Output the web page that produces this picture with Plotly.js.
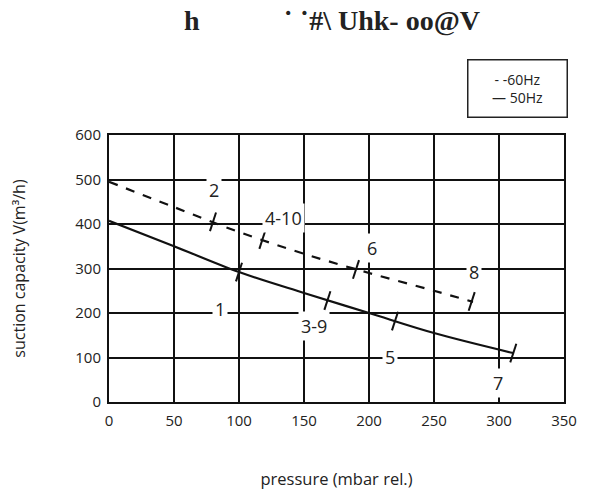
<!DOCTYPE html>
<html>
<head>
<meta charset="utf-8">
<script src="https://cdn.plot.ly/plotly-3.0.1.min.js"></script>
<style>html,body{margin:0;padding:0;background:#fff;}#chart{width:599px;height:490px;}</style>
</head>
<body>
<div id="chart"></div>
<script>
// pressure values (mbar rel.)
const pressure60 = [0, 50, 100, 150, 200, 250, 280];
const capacity60 = [495, 438, 382, 333, 290, 250, 225];
const pressure50 = [0, 50, 100, 150, 200, 250, 311];
const capacity50 = [407, 350, 292, 245, 200, 155, 110];

// tick marks on curves
const mark60x = [80, 118, 190, 279];
const mark60y = [405, 365, 298, 226];
const mark50x = [100, 168, 220, 311];
const mark50y = [292, 228, 182, 110];

// numbered labels
const labelText = ["1", "2", "3-9", "4-10", "5", "6", "7", "8"];
const labelX = [85, 81, 158, 134, 216, 202, 299, 281];
const labelY = [209, 476, 171, 413, 101, 346, 43, 292];

const xTicks = [0, 50, 100, 150, 200, 250, 300, 350];
const yTicks = [0, 100, 200, 300, 400, 500, 600];

const titleText = "h" + "\u00a0".repeat(12) + "˙ ˙#\\ Uhk- oo@V";
const legendText = "- -60Hz<br>— 50Hz";

const traces = [
  {x: pressure60, y: capacity60, mode: "lines", line: {color: "#111", width: 2.2, dash: "dash", shape: "spline"}, showlegend: false, name: "60Hz"},
  {x: pressure50, y: capacity50, mode: "lines", line: {color: "#111", width: 2.2, shape: "spline"}, showlegend: false, name: "50Hz"},
  {x: mark60x, y: mark60y, mode: "markers", marker: {symbol: "line-ns", size: 14, angle: 18, line: {color: "#111", width: 2}}, showlegend: false},
  {x: mark50x, y: mark50y, mode: "markers", marker: {symbol: "line-ns", size: 14, angle: 18, line: {color: "#111", width: 2}}, showlegend: false}
];

const annotations = labelText.map((t, i) => ({
  x: labelX[i], y: labelY[i], xref: "x", yref: "y", text: t, showarrow: false,
  font: {family: "Open Sans", size: 18, color: "#222"}, bgcolor: "#fff", borderpad: 2
}));
annotations.push({
  x: 0.897, y: 1.176, xref: "paper", yref: "paper", xanchor: "center", yanchor: "middle",
  text: legendText, showarrow: false,
  font: {family: "Open Sans", size: 14, color: "#222"}, bordercolor: "#222", borderwidth: 1.5,
  width: 94, height: 52, borderpad: 2, align: "center", bgcolor: "#fff"
});

const axisFont = {family: "Open Sans", size: 15, color: "#222"};
const layout = {
  width: 599, height: 490,
  margin: {l: 109, r: 35, t: 135, b: 88},
  paper_bgcolor: "#fff", plot_bgcolor: "#fff",
  title: {text: titleText, font: {family: "Liberation Serif", size: 28, color: "#222", weight: "bold"}, x: 0.49, xref: "paper", y: 0.958, yanchor: "middle"},
  xaxis: {
    range: [0, 350], tickvals: xTicks, ticktext: xTicks.map(String), showgrid: true, gridcolor: "#111", gridwidth: 2,
    showline: true, mirror: true, linecolor: "#111", linewidth: 2, zeroline: false,
    ticks: "outside", ticklen: 4, tickcolor: "#fff", tickfont: axisFont,
    title: {text: "pressure (mbar rel.)", font: {family: "Open Sans", size: 16.5, color: "#222"}, standoff: 58}
  },
  yaxis: {
    range: [0, 600], tickvals: yTicks, ticktext: yTicks.map(String), showgrid: true, gridcolor: "#111", gridwidth: 2,
    showline: true, mirror: true, linecolor: "#111", linewidth: 2, zeroline: false,
    ticks: "outside", ticklen: 3, tickcolor: "#fff", tickfont: axisFont,
    title: {text: "suction capacity V(m³/h)", font: {family: "Open Sans", size: 16, color: "#222"}, standoff: 46}
  },
  annotations: annotations
};

Plotly.newPlot("chart", traces, layout, {displayModeBar: false, staticPlot: true});
</script>
</body>
</html>
